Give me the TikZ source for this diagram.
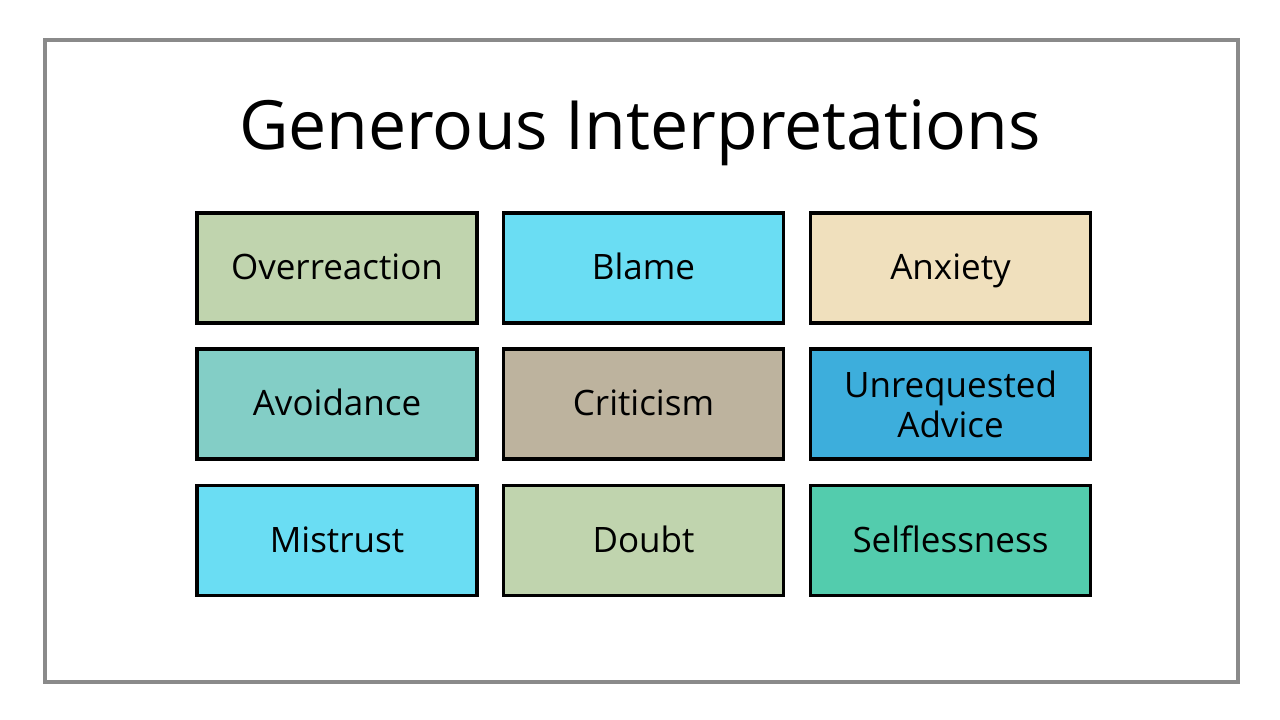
\documentclass[tikz,border=0pt]{standalone}
\usepackage{fontspec}
\setmainfont{Open Sans}
\definecolor{sage}{HTML}{C0D4AE}
\definecolor{cyanb}{HTML}{6ADDF3}
\definecolor{beige}{HTML}{F0E0BD}
\definecolor{teal}{HTML}{83CEC6}
\definecolor{tan}{HTML}{BDB39E}
\definecolor{blueb}{HTML}{3DAEDC}
\definecolor{mint}{HTML}{53CCAD}
\definecolor{framegray}{HTML}{8A8A8A}
\tikzset{
  card/.style={draw=black, line width=3.2pt, minimum width=280pt, minimum height=110pt,
    inner sep=0pt, align=center, font=\fontsize{35}{40}\selectfont, text=black,
    text height=27pt, text depth=3pt},
  twoline/.style={text height=, text depth=}
}
\begin{document}
\begin{tikzpicture}[x=1pt,y=1pt]
\useasboundingbox (0,0) rectangle (1280,720);
\fill[white] (0,0) rectangle (1280,720);
\node[draw=framegray, line width=3.5pt, minimum width=1193pt, minimum height=642pt, inner sep=0pt] (frame) at (641.5,359) {};
\node[font=\fontsize{68}{76}\selectfont, text=black] (title) at (640,587) {Generous Interpretations};
\node[card, fill=sage]  (c11) at (337,452)   {Overreaction};
\node[card, fill=cyanb] (c12) at (643.5,452) {Blame};
\node[card, fill=beige] (c13) at (950.5,452) {Anxiety};
\node[card, fill=teal]  (c21) at (337,316)   {Avoidance};
\node[card, fill=tan]   (c22) at (643.5,316) {Criticism};
\node[card, twoline, fill=blueb] (c23) at (950.5,316) {Unrequested\\Advice};
\node[card, fill=cyanb] (c31) at (337,179.5)   {Mistrust};
\node[card, fill=sage]  (c32) at (643.5,179.5) {Doubt};
\node[card, fill=mint]  (c33) at (950.5,179.5) {Selflessness};
\end{tikzpicture}
\end{document}
